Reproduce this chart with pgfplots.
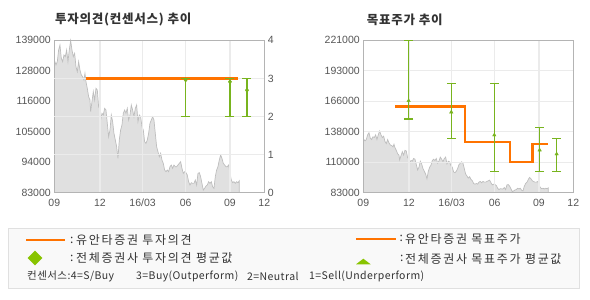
\documentclass[border=0pt]{standalone}
\usepackage{fontspec}
\setmainfont{Liberation Sans}
\newfontfamily\krt[LetterSpace=6]{Noto Sans CJK KR}
\newfontfamily\krl[LetterSpace=14]{Noto Sans CJK KR}
\newfontfamily\krs[LetterSpace=4]{Noto Sans CJK KR}
\usepackage{pgfplots}
\usepackage{pgfplotstable}
\pgfplotsset{compat=1.18}
\definecolor{org}{HTML}{FF7300}
\definecolor{grn}{HTML}{78B41E}
\definecolor{grnl}{HTML}{88C400}
\definecolor{areaf}{HTML}{E0E0E0}
\definecolor{areal}{HTML}{BEBEBE}
\definecolor{axc}{HTML}{B4B4B4}
\definecolor{gridc}{HTML}{EBEBEB}
\definecolor{tickc}{HTML}{555555}
\definecolor{txt}{HTML}{333333}
\definecolor{legf}{HTML}{F9F9F9}
\definecolor{legb}{HTML}{E0E0E0}

\pgfplotstableread{
x y
163 83000
163 131770
168 129930
172 131160
176 135450
180 137280
184 132380
188 131160
192 133610
196 133000
200 135450
204 131160
208 135450
212 138900
216 135450
220 133000
224 134220
228 129320
232 127480
236 131160
240 128090
244 126260
248 125640
252 124420
255 126870
258 123800
262 121350
266 118290
270 117070
272 112780
276 116450
280 120130
284 117070
288 121350
292 120740
296 114610
300 115840
302 109710
306 112160
310 111550
314 114000
318 113390
322 108490
326 103590
330 106040
334 111550
338 109100
342 104810
346 102360
350 99910
354 95620
358 102360
362 106040
366 107880
370 112160
374 113390
378 112160
382 114000
386 109710
390 111550
394 115230
398 113390
402 110940
406 114000
410 115230
414 109100
418 111550
422 110940
426 107260
430 106040
434 101750
438 101140
442 102360
446 104810
450 108490
454 109710
458 110940
462 109710
466 104810
470 99910
474 98070
478 96230
482 97460
486 95010
490 93780
494 91330
498 90720
502 91330
506 90720
510 92560
514 93170
518 91950
522 93170
526 92560
530 92560
534 93170
538 93780
542 94400
546 91950
550 90110
554 90720
558 90350
562 89490
566 87040
570 85820
574 86680
578 86430
582 86430
586 87660
590 85820
594 90110
598 90350
602 88880
606 86430
610 83980
614 84590
618 85450
622 85820
626 87040
630 86430
634 87040
638 85200
642 84590
646 88880
650 91330
654 92560
658 95010
662 96850
666 95620
670 93780
674 93170
678 92560
682 92560
686 93170
690 90110
694 87660
698 86680
702 87040
706 86430
710 87040
714 86680
718 87410
718 83000
}\price

\pgfplotsset{
  base/.style={
    scale only axis, width=210pt, height=152.4pt, anchor=south west,
    xmin=163, xmax=793,
    xtick={163,300,428,557,690,793},
    xticklabels={09,12,16/03,06,09,12},
    axis line style={axc, line width=1.1pt},
    tick style={draw=none},
    grid style={gridc, line width=1.2pt},
    ticklabel style={font=\fontsize{10.5}{12}\selectfont, text=tickc},
    xticklabel style={yshift=-3pt},
    scaled y ticks=false, scaled x ticks=false,
    /pgf/number format/assume math mode=true,
    clip=false,
  },
  pricearea/.style={fill=areaf, draw=none},
  priceline/.style={areal, line width=0.7pt},
}

\begin{document}
\begin{tikzpicture}[x=1pt,y=1pt]
\useasboundingbox (0,0) rectangle (590,300);

% ---------- left chart: price area ----------
\begin{axis}[base, at={(54.3pt,107.3pt)}, axis on top,
  ymin=83000, ymax=139000,
  ytick={83000,94200,105400,116600,127800,139000},
  yticklabels={83000,94000,105000,116000,128000,139000},
  xmajorgrids=true]
  \addplot[pricearea] table[x=x,y=y] {\price} -- cycle;
  \addplot[priceline] table[x=x,y=y, skip coords between index={0}{1}] {\price};
\end{axis}
% ---------- left chart: opinion ----------
\begin{axis}[base, at={(54.3pt,107.3pt)},
  axis x line=none, axis y line*=right,
  ymin=0, ymax=4,
  ytick={1,2,3}, extra y ticks={0,4},
  extra y tick style={grid=none},
  ymajorgrids=true]
  \addplot[org, line width=2.5pt] coordinates {(259,3) (715,3)};
  \addplot[grn, mark=diamond*, mark size=2.2pt, only marks,
    error bars/.cd, y dir=both, y explicit,
    error bar style={grn, line width=1.2pt},
    error mark options={grn, mark size=4.5pt, line width=1.2pt, rotate=90}]
    coordinates {
      (557,2.96) += (0,0.04) -= (0,0.96)
      (690,2.91) += (0,0.09) -= (0,0.91)
      (741,2.69) += (0,0.31) -= (0,0.69)
    };
\end{axis}

% ---------- right chart: price area ----------
\begin{axis}[base, at={(363.3pt,107.3pt)}, axis on top,
  ymin=83000, ymax=221000,
  ytick={83000,110600,138200,165800,193400,221000},
  yticklabels={83000,110000,138000,166000,193000,221000},
  xmajorgrids=true, ymajorgrids=true]
  \addplot[pricearea] table[x=x,y=y] {\price} -- cycle;
  \addplot[priceline] table[x=x,y=y, skip coords between index={0}{1}] {\price};
\end{axis}
% ---------- right chart: target price ----------
\begin{axis}[base, at={(363.3pt,107.3pt)}, hide axis,
  ymin=83000, ymax=221000]
  \addplot[org, line width=2.5pt, const plot, line join=miter]
    coordinates {(259,161000) (468,129000) (603,111000) (671,127000) (716,127000)};
  \addplot[grn, mark=triangle*, mark size=2pt, only marks,
    error bars/.cd, y dir=both, y explicit,
    error bar style={grn, line width=1.2pt},
    error mark options={grn, mark size=4.5pt, line width=1.2pt, rotate=90}]
    coordinates {
      (299,166300) += (0,54700) -= (0,16600)
      (427,156000) += (0,26000) -= (0,23800)
      (556,135200) += (0,46800) -= (0,32900)
      (692,121600) += (0,20600) -= (0,19300)
      (743,118000) += (0,14200) -= (0,15700)
    };
\end{axis}

% ---------- titles ----------
\node[anchor=west, inner sep=0, text=txt] at (55,280)
  {\krt\bfseries\fontsize{12.5}{14}\selectfont 투자의견(컨센서스) 추이};
\node[anchor=west, inner sep=0, text=txt] at (366.7,280)
  {\krt\bfseries\fontsize{12.5}{14}\selectfont 목표주가 추이};

% ---------- legend ----------
\draw[draw=legb, fill=legf, line width=1pt] (8,11.3) rectangle (579.3,71.3);
\draw[org, line width=2pt] (26,60) -- (65,60);
\fill[grnl] (35,49.3) -- (42.3,42) -- (35,34.7) -- (27.7,42) -- cycle;
\draw[org, line width=2pt] (356,61.3) -- (396,61.3);
\fill[grnl] (356,35.7) -- (370.7,35.7) -- (363.3,41.3) -- cycle;
\begin{scope}[every node/.style={anchor=west, inner sep=0, text=txt, font=\krl\fontsize{12}{14}\selectfont}]
  \node at (70,60) {:};
  \node at (76,60) {유안타증권 투자의견};
  \node at (70,42) {:};
  \node at (76,42) {전체증권사 투자의견 평균값};
  \node at (399.3,61.3) {:};
  \node at (405,61.3) {유안타증권 목표주가};
  \node at (400,41.3) {:};
  \node at (405,41.3) {전체증권사 목표주가 평균값};
\end{scope}
\begin{scope}[every node/.style={anchor=west, inner sep=0, text=txt, font=\krs\fontsize{10.5}{12}\selectfont}]
  \node at (27,24) {컨센서스:4=S/Buy};
  \node at (136,24) {3=Buy(Outperform)};
  \node at (247,24) {2=Neutral};
  \node at (309,24) {1=Sell(Underperform)};
\end{scope}
\end{tikzpicture}
\end{document}
